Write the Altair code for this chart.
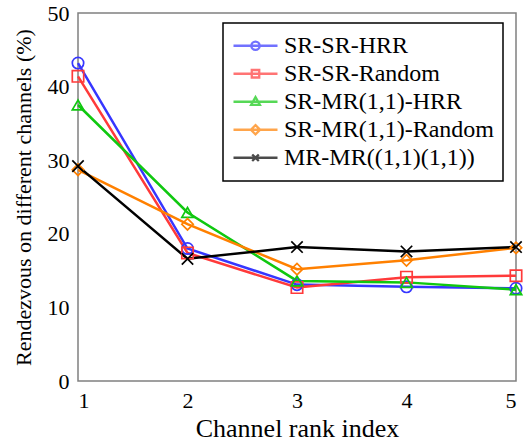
import altair as alt
import pandas as pd

series = ["SR-SR-HRR", "SR-SR-Random", "SR-MR(1,1)-HRR", "SR-MR(1,1)-Random", "MR-MR((1,1)(1,1))"]
ranks = [1, 2, 3, 4, 5]
vals_sr_sr_hrr = [43.2, 18.0, 13.1, 12.8, 12.6]
vals_sr_sr_random = [41.4, 17.4, 12.7, 14.1, 14.3]
vals_sr_mr_hrr = [37.5, 22.9, 13.6, 13.4, 12.4]
vals_sr_mr_random = [28.7, 21.3, 15.2, 16.4, 18.1]
vals_mr_mr = [29.2, 16.6, 18.2, 17.6, 18.2]

colors = ["#3636ff", "#ff3a3a", "#10c810", "#ff8000", "#000000"]

all_vals = [vals_sr_sr_hrr, vals_sr_sr_random, vals_sr_mr_hrr, vals_sr_mr_random, vals_mr_mr]
rows = []
for s, vs in zip(series, all_vals):
    for r, v in zip(ranks, vs):
        rows.append({"series": s, "rank": r, "value": v})
df = pd.DataFrame(rows)

FONT = "'Liberation Serif', 'Times New Roman', 'DejaVu Serif', serif"

# plot marker shapes
x_shape = "M-1,-1L1,1M-1,1L1,-1"
plot_shapes = ["circle", "square", "triangle-up", "diamond", x_shape]

# legend symbols: line segment with marker in the middle
legend_shapes = [
    "M-1,0H1M0.19,0A0.19,0.19,0,1,1,-0.19,0A0.19,0.19,0,1,1,0.19,0Z",
    "M-1,0H1M-0.17,-0.17H0.17V0.17H-0.17Z",
    "M-1,0H1M0,-0.21L0.2,0.14H-0.2Z",
    "M-1,0H1M0,-0.21L0.21,0L0,0.21L-0.21,0Z",
    "M-1,0H1M-0.15,-0.15L0.15,0.15M-0.15,0.15L0.15,-0.15",
]

x_enc = alt.X("rank:Q", scale=alt.Scale(domain=[1, 5], nice=False),
              axis=alt.Axis(values=ranks, format="d", title="Channel rank index",
                            titleFontSize=26))
y_enc = alt.Y("value:Q", scale=alt.Scale(domain=[0, 50], nice=False),
              axis=alt.Axis(values=[0, 10, 20, 30, 40, 50],
                            title="Rendezvous on different channels (%)", titleFontSize=22))

base = alt.Chart(df)

lines = base.mark_line(strokeWidth=2.5).encode(
    x=x_enc, y=y_enc,
    color=alt.Color("series:N", scale=alt.Scale(domain=series, range=colors), legend=None),
    detail="series:N",
)

points = base.mark_point(filled=False, strokeWidth=1.7, size=130, opacity=1, fillOpacity=0).encode(
    x=x_enc, y=y_enc,
    color=alt.Color("series:N", scale=alt.Scale(domain=series, range=colors), legend=None),
    shape=alt.Shape("series:N", scale=alt.Scale(domain=series, range=plot_shapes), legend=None),
)

leg = alt.Legend(
    title=None, orient="none", legendX=145, legendY=10,
    labelFont=FONT, labelFontSize=24, labelColor="black", labelLimit=0,
    symbolSize=1936, symbolStrokeWidth=2.3, clipHeight=27.5, rowPadding=0,
    labelOffset=5, padding=9, strokeColor="black", fillColor="white",
)

legend_layer = base.transform_filter("datum.value < 0").mark_point(filled=False, strokeWidth=2.3).encode(
    x=x_enc, y=y_enc,
    color=alt.Color("series:N", scale=alt.Scale(domain=series, range=colors), legend=leg),
    shape=alt.Shape("series:N", scale=alt.Scale(domain=series, range=legend_shapes), legend=leg),
)

chart = alt.layer(lines, points, legend_layer).resolve_scale(
    color="independent", shape="independent"
).properties(
    width=438, height=368,
    autosize=alt.AutoSizeParams(type="none"),
    padding={"left": 78, "top": 13, "right": 12, "bottom": 60},
    background="white",
).configure(
    font=FONT
).configure_view(
    stroke="#808080", strokeWidth=1.5
).configure_axis(
    grid=False, domain=False, ticks=False,
    labelFont=FONT, labelFontSize=22, labelColor="black",
    titleFont=FONT, titleFontWeight="normal", titleColor="black",
).configure_axisY(
    labelPadding=9, titlePadding=12
).configure_axisX(
    labelPadding=9, titlePadding=4
).configure_legend(
    strokeWidth=1.5, labelFont=FONT, labelFontSize=24, labelLimit=0, labelColor="black"
)

chart.save("out.html", embed_options={"renderer": "svg", "actions": False})
